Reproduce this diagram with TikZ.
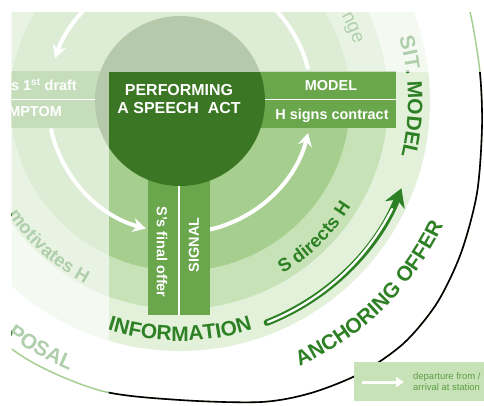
\documentclass[tikz,border=0pt]{standalone}
\usepackage{fontspec}
\setmainfont{Liberation Sans}
\usetikzlibrary{arrows.meta,decorations.text}
\definecolor{darkgr}{RGB}{58,118,35}
\definecolor{bandgr}{RGB}{105,166,76}
\definecolor{ringa}{RGB}{166,206,142}
\definecolor{ringb}{RGB}{198,226,182}
\definecolor{ringc}{RGB}{227,241,219}
\definecolor{txtgr}{RGB}{45,128,35}
\definecolor{rimgr}{RGB}{165,208,145}
\definecolor{legtxt}{RGB}{95,158,72}
\newcommand\stationfont{\fontsize{21}{25}\selectfont\bfseries\color{txtgr}}
\newcommand\movefont{\fontsize{18.5}{22}\selectfont\bfseries\color{txtgr}}
\newcommand\thinfont{\fontsize{19}{22}\selectfont\color{txtgr}}
\newcommand\rimcurve{plot[smooth] coordinates {(-260,-150) (-212,-212) (-150,-260) (-78,-290) (0,-299) (81,-301) (131,-292) (181,-272) (224,-242) (257,-202) (281,-152) (297,-92) (302,-26) (300,28) (292,80) (282,120)}}

\begin{document}
\begin{tikzpicture}[x=1bp,y=1bp,
    band/.style={fill=bandgr},
    sep/.style={white,line width=1.6bp},
    warc/.style={white,line width=4bp,-{Stealth[length=13bp,width=14bp]}},
    bandtext/.style={text=white,inner sep=0pt,font=\fontsize{14.5}{17}\selectfont\bfseries},
    arctext/.style={decorate,decoration={text along path,text align=center,text={#1}}}]
  \useasboundingbox (-180,101) rectangle (304,-304);
  \fill[white] (-180,101) rectangle (304,-304);
  \clip (-168,89) rectangle (304,-304);
  \fill[ringc] (0,0) circle (250);
  \fill[ringb] (0,0) circle (208);
  \fill[ringa] (0,0) circle (170);
  \draw[warc] (120:132) arc (120:161:132);
  \draw[warc] (192:132) arc (192:255:132);
  \draw[warc] (283:132) arc (283:346:132);
  \draw[white,line width=4bp] (14:132) arc (14:60:132);
  \fill[band] (-170,30) rectangle (216,-27);
  \fill[band] (-32,0) rectangle (30,-214);
  \draw[sep] (-170,1.5) -- (216,1.5);
  \draw[sep] (-1,0) -- (-1,-214);
  \fill[darkgr] (0,0) circle (85);
  \node (act) at (-1,2) [text=white,align=center,font=\fontsize{16}{19}\selectfont\bfseries] {PERFORMING\\A SPEECH~~ACT};
  \node (model) at (151,15) [bandtext] {MODEL};
  \node (contract) at (152,-15) [bandtext] {H signs contract};
  \node (draft) at (-103,16) [bandtext,anchor=east] {s 1\textsuperscript{st} draft};
  \node (symptom) at (-118,-11) [bandtext,anchor=east] {MPTOM};
  \node (offer) at (-18,-151) [bandtext,rotate=-90] {S's final offer};
  \node (signal) at (14,-144) [bandtext,rotate=90] {SIGNAL};
  \path[arctext={|\stationfont|INFORMATION}] (-125:240) arc (-125:-55:240);
  \path[arctext={|\stationfont|SIT. MODEL}] (25:228) arc (25:-23:228);
  \path[arctext={|\stationfont|ANCHORING OFFER}] (-75:291) arc (-75:-16:291);
  \path[arctext={|\stationfont|POSAL}] (-140:291) arc (-140:-98.8:291);
  \path[arctext={|\movefont|S directs H}] (-70:201) arc (-70:-21:201);
  \path[arctext={|\movefont|motivates H}] (200:206) arc (200:256:206);
  \path[arctext={|\thinfont|nge}] (40:183) arc (40:6:183);
  \draw[txtgr,line width=6.5bp,line cap=round,-{Stealth[length=18bp,width=21bp]}] (-68.6:238) arc (-68.6:-21.5:238);
  \draw[white,line width=2.3bp,line cap=round] (-68.3:238) arc (-68.3:-27:238);
  \fill[white,opacity=0.62] (-170,29) rectangle (306,91);
  \fill[white,opacity=0.62] (-170,29) rectangle (-71.5,-306);
  \draw[rimgr,line width=1.5bp] \rimcurve;
  \begin{scope}
    \clip (-71.5,29) rectangle (310,-310);
    \draw[black,line width=1.6bp] \rimcurve;
  \end{scope}
  \fill[ringb] (174,-261) rectangle (306,-300);
  \coordinate (legfrom) at (182,-281);
  \coordinate (legto) at (224,-281);
  \draw[white,line width=3bp,-{Triangle[length=8bp,width=10bp]}] (legfrom) -- (legto);
  \node (dep) at (233,-276) [anchor=west,inner sep=0pt,text=legtxt,font=\fontsize{9.5}{11}\selectfont] {departure from /};
  \node (arr) at (233,-286.5) [anchor=west,inner sep=0pt,text=legtxt,font=\fontsize{9.5}{11}\selectfont] {arrival at station};
\end{tikzpicture}
\end{document}
